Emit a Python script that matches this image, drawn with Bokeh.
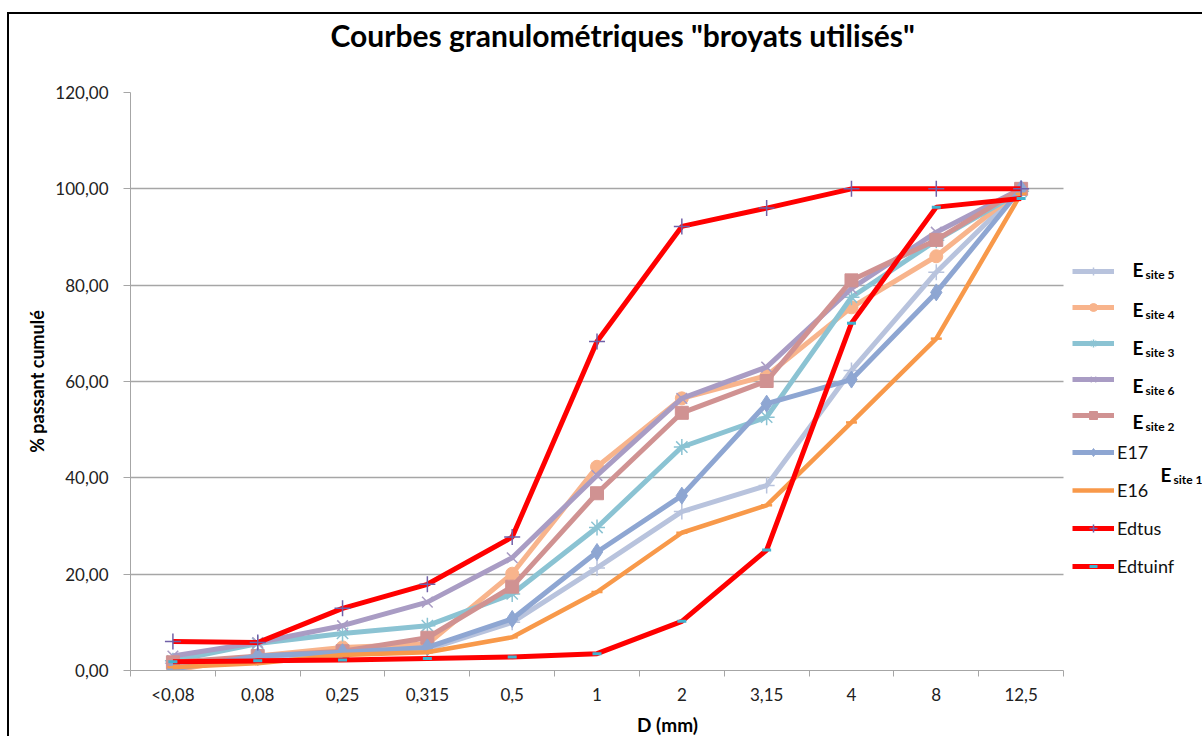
from bokeh.plotting import figure
from bokeh.models import Range1d, FixedTicker, Legend, LegendItem, Label, Grid, Title
from bokeh.embed import file_html
from bokeh.resources import INLINE

categories = ["<0,08", "0,08", "0,25", "0,315", "0,5", "1", "2", "3,15", "4", "8", "12,5"]
y_ticks = [0, 20, 40, 60, 80, 100, 120]
y_tick_labels = ["0,00", "20,00", "40,00", "60,00", "80,00", "100,00", "120,00"]

esite5 = [1.5, 2.6, 3.5, 4.4, 10.0, 21.3, 33.0, 38.4, 62.3, 82.7, 100.0]
esite4 = [0.0, 3.0, 4.8, 5.5, 20.1, 42.3, 56.5, 61.2, 75.4, 86.0, 100.0]
esite3 = [2.0, 5.6, 7.7, 9.3, 15.9, 29.7, 46.4, 52.6, 77.5, 89.3, 99.5]
esite6 = [3.0, 5.8, 9.3, 14.2, 23.4, 40.5, 56.5, 63.0, 79.3, 91.0, 100.0]
esite2 = [1.7, 3.0, 4.0, 6.8, 17.4, 36.8, 53.5, 60.1, 81.0, 89.4, 100.0]
e17 = [0.3, 3.0, 3.8, 4.8, 10.7, 24.6, 36.3, 55.4, 60.4, 78.5, 100.0]
e16 = [0.7, 1.5, 3.2, 3.8, 6.9, 16.3, 28.6, 34.3, 51.5, 68.9, 99.0]
edtus = [6.0, 5.8, 12.9, 17.9, 27.7, 68.3, 92.2, 96.0, 100.0, 100.0, 100.0]
edtuinf = [1.8, 2.0, 2.2, 2.5, 2.8, 3.5, 10.2, 25.0, 72.1, 96.2, 98.0]

series_names = ["Esite 5", "Esite 4", "Esite 3", "Esite 6", "Esite 2", "E17", "E16", "Edtus", "Edtuinf"]
legend_texts = [" ", " ", " ", " ", " ", "E17", "E16", "Edtus", "Edtuinf"]
subscripts = ["site 5", "site 4", "site 3", "site 6", "site 2"]
title_text = 'Courbes granulométriques "broyats utilisés"'

FONT = "Lato"

# canvas origin sits at page (9, 14): 7/12 px margin + 2 px border
X_UNITS_END = -0.5 + (1195 - 121) / 84.82

p = figure(width=1195, height=724, output_backend="svg", toolbar_location=None,
           x_range=Range1d(-0.5, X_UNITS_END), y_range=Range1d(0, 120),
           min_border_left=121, min_border_right=0, min_border_top=78, min_border_bottom=68)
p.margin = (12, 0, 0, 7)
p.styles = {"border-left": "2px solid black", "border-top": "2px solid black"}
p.outline_line_color = None
p.background_fill_color = "white"
p.border_fill_color = "white"

# real title (outermost) and a spacer title between it and the frame
p.title.text = title_text
p.title.text_font = FONT
p.title.text_font_style = "bold"
p.title.text_font_size = "30px"
p.title.text_color = "#000000"
p.title.align = "left"
p.title.offset = 200
p.title.standoff = 0
p.add_layout(Title(text=" ", text_font_size="10px", standoff=27), "above")

xs = list(range(len(categories)))

# x axis
p.xaxis.bounds = (-0.5, len(categories) - 0.5)
p.xaxis.ticker = FixedTicker(ticks=xs, minor_ticks=[i - 0.5 for i in range(len(categories) + 1)])
p.xaxis.major_label_overrides = {i: c for i, c in enumerate(categories)}
p.xaxis.major_tick_out = 0
p.xaxis.major_tick_in = 0
p.xaxis.minor_tick_out = 6
p.xaxis.minor_tick_in = 0
p.xaxis.minor_tick_line_color = "#A6A6A6"
p.xaxis.axis_line_color = "#A6A6A6"
p.xaxis.major_label_standoff = 7
p.xaxis.major_label_text_font = FONT
p.xaxis.major_label_text_font_size = "17px"
p.xaxis.major_label_text_color = "#222222"
p.xaxis.axis_label = "D (mm)"
p.xaxis.axis_label_standoff = 5
p.xaxis.axis_label_text_font = FONT
p.xaxis.axis_label_text_font_style = "bold"
p.xaxis.axis_label_text_font_size = "19px"
p.xaxis.axis_label_text_color = "#000000"

# y axis
p.yaxis.bounds = (0, 120)
p.yaxis.ticker = FixedTicker(ticks=y_ticks, minor_ticks=[])
p.yaxis.major_label_overrides = {v: s for v, s in zip(y_ticks, y_tick_labels)}
p.yaxis.major_tick_out = 7
p.yaxis.major_tick_in = 0
p.yaxis.major_tick_line_color = "#A6A6A6"
p.yaxis.axis_line_color = "#A6A6A6"
p.yaxis.major_label_standoff = 15
p.yaxis.major_label_text_font = FONT
p.yaxis.major_label_text_font_size = "17px"
p.yaxis.major_label_text_color = "#222222"
p.yaxis.axis_label = "% passant cumulé"
p.yaxis.axis_label_standoff = 4
p.yaxis.axis_label_text_font = FONT
p.yaxis.axis_label_text_font_style = "bold"
p.yaxis.axis_label_text_font_size = "18px"
p.yaxis.axis_label_text_color = "#000000"

p.xgrid.grid_line_color = None
if "cross_bounds" in Grid.properties():
    p.ygrid.ticker = FixedTicker(ticks=y_ticks[1:])
    p.ygrid.cross_bounds = (-0.5, len(categories) - 0.5)
    p.ygrid.grid_line_color = "#A6A6A6"
    p.ygrid.grid_line_width = 1.5
else:
    p.ygrid.grid_line_color = None
    p.segment(x0=[-0.5] * 6, x1=[len(categories) - 0.5] * 6, y0=y_ticks[1:], y1=y_ticks[1:],
              line_color="#A6A6A6", line_width=1.5)

styles = [
    # color, marker, size, marker fill, marker line color, marker line width, line width
    ("#B8C3DD", "cross", 16, "#B8C3DD", "#B8C3DD", 1.5, 5),
    ("#F8B48C", "circle", 13, "#F8B48C", "#F8B48C", 1, 5),
    ("#8BC3D3", "asterisk", 16, "#8BC3D3", "#8BC3D3", 1.5, 5),
    ("#A99CC4", "x", 15, "#A99CC4", "#A99CC4", 1.5, 5),
    ("#D09292", "square", 13, "#D09292", "#D09292", 1, 5),
    ("#8EA6D2", "diamond", 17, "#8EA6D2", "#8EA6D2", 1, 5),
    ("#F8994A", "dash", 11, "#F8994A", "#F8994A", 2.5, 4.5),
    ("#FF0000", "cross", 16, "#7060A8", "#7060A8", 1.5, 5),
    ("#FF0000", "dash", 9, "#3FB2D0", "#3FB2D0", 3, 5),
]
data = [esite5, esite4, esite3, esite6, esite2, e17, e16, edtus, edtuinf]

items = []
for name, vals, st, lt in zip(series_names, data, styles, legend_texts):
    color, marker, size, fill, mline, mlw, lw = st
    r1 = p.line(xs, vals, line_color=color, line_width=lw)
    r2 = p.scatter(xs, vals, marker=marker, size=size, fill_color=fill,
                   line_color=mline, line_width=mlw)
    items.append(LegendItem(label=lt, renderers=[r1, r2]))

legend = Legend(items=items, location=(942, 93), orientation="vertical",
                glyph_width=42, glyph_height=20, label_height=20, spacing=16,
                label_standoff=3, padding=0, margin=0,
                label_text_font=FONT, label_text_font_size="18px",
                label_text_color="#111111",
                border_line_color=None, background_fill_alpha=0)
p.add_layout(legend, "center")


def px_x(X):
    return (X - 130) / 84.82 - 0.5


def px_y(Y):
    return (670 - Y) / 4.817


# rich legend labels (E with subscript)
e_rows = [269, 309, 347, 385, 421]
for sub, Y in zip(subscripts, e_rows):
    p.add_layout(Label(x=px_x(1132), y=px_y(Y), text="E", text_font=FONT, text_font_style="bold",
                       text_font_size="19px", text_baseline="middle", text_color="#000000"))
    p.add_layout(Label(x=px_x(1145), y=px_y(Y + 5), text=sub, text_font=FONT, text_font_style="bold",
                       text_font_size="12px", text_baseline="middle", text_color="#000000"))

p.add_layout(Label(x=px_x(1160), y=px_y(474), text="E", text_font=FONT, text_font_style="bold",
                   text_font_size="19px", text_baseline="middle", text_color="#000000"))
p.add_layout(Label(x=px_x(1173), y=px_y(479), text="site 1", text_font=FONT, text_font_style="bold",
                   text_font_size="12px", text_baseline="middle", text_color="#000000"))

open("out.html", "w").write(file_html(p, INLINE))
